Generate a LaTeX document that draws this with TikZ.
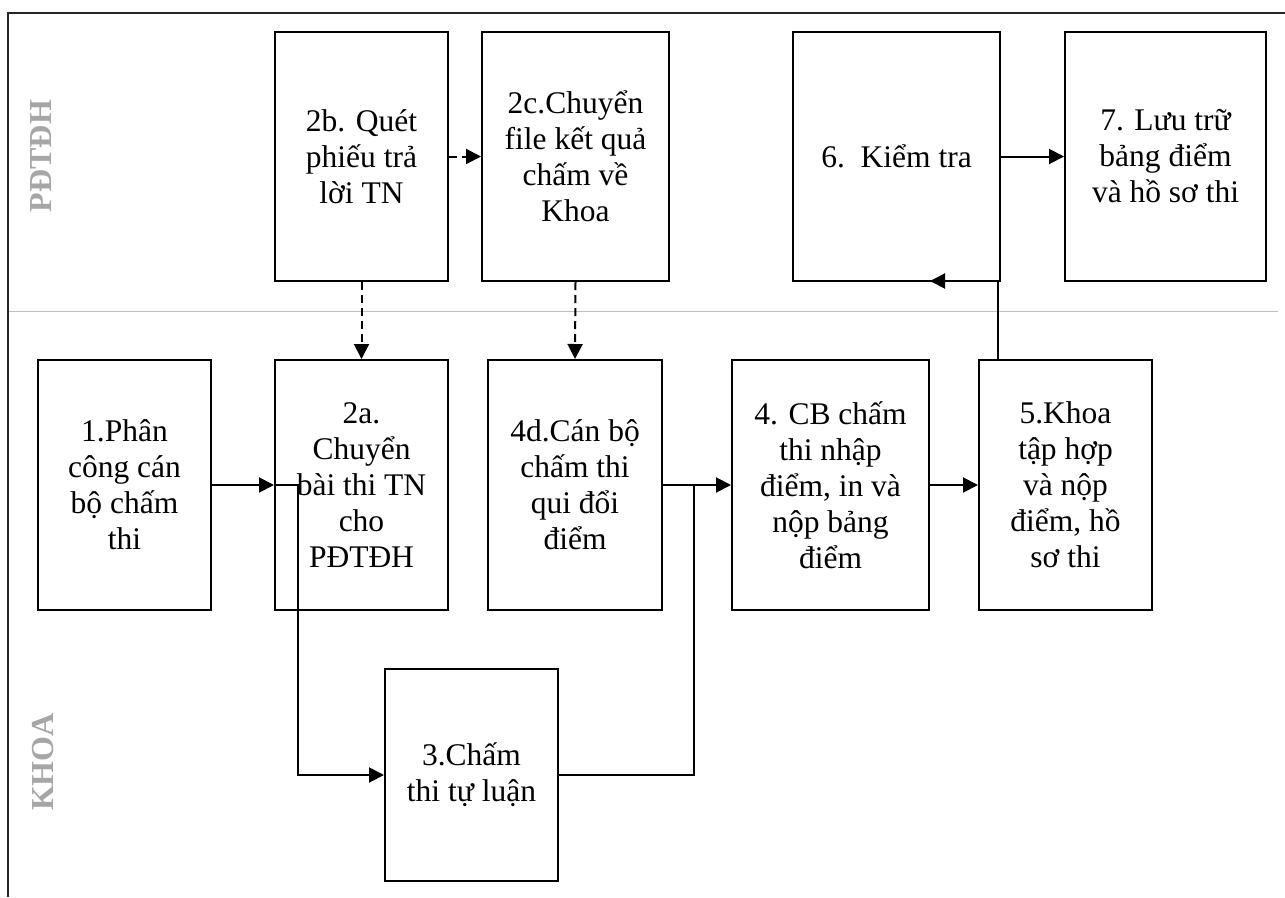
\documentclass[tikz,border=0pt]{standalone}
\usepackage{fontspec}
\setmainfont{Liberation Serif}
\usetikzlibrary{arrows.meta,calc}
\definecolor{lanegray}{RGB}{166,166,166}
\definecolor{divgray}{RGB}{192,192,192}
\begin{document}
\begin{tikzpicture}[x=1pt,y=-1pt,
  stepbox/.style={draw,line width=2pt,inner sep=0pt,align=center,
    font=\fontsize{31.5}{36}\selectfont},
  arr/.style={line width=2pt,-{Triangle[length=15pt,width=15pt]}},
  dasharr/.style={arr,dash pattern=on 8pt off 5pt},
  conn/.style={line width=2pt},
  lanelabel/.style={rotate=90,text=lanegray,font=\fontsize{32}{36}\selectfont\bfseries}]
\useasboundingbox (0,0) rectangle (1285,897);
% frame and lane divider
\draw[line width=2pt,black!85] (1285,13) -- (8,13) -- (8,897);
\draw[line width=1.5pt,divgray] (9,311.5) -- (1278,311.5);
\node[lanelabel] (lpd) at (41,156) {PĐTĐH};
\node[lanelabel] (lkh) at (43,762) {KHOA};
% upper lane (PĐTĐH)
\node[stepbox,minimum width=173pt,minimum height=249pt] (s2b) at (361.5,156.5) {2b. Quét\\phiếu trả\\lời TN};
\node[stepbox,minimum width=187pt,minimum height=249pt] (s2c) at (575.5,156.5) {2c.Chuyển\\file kết quả\\chấm về\\Khoa};
\node[stepbox,minimum width=207pt,minimum height=249pt] (s6) at (896.5,156.5) {6.\ \ Kiểm tra};
\node[stepbox,minimum width=201pt,minimum height=249pt] (s7) at (1165.5,156.5) {7. Lưu trữ\\bảng điểm\\và hồ sơ thi};
% lower lane (KHOA)
\node[stepbox,minimum width=173pt,minimum height=250pt] (s1) at (124.5,485) {1.Phân\\công cán\\bộ chấm\\thi};
\node[stepbox,minimum width=173pt,minimum height=250pt] (s2a) at (361.5,485) {2a.\\Chuyển\\bài thi TN\\cho\\PĐTĐH};
\node[stepbox,minimum width=174pt,minimum height=250pt] (s4d) at (575,485) {4d.Cán bộ\\chấm thi\\qui đổi\\điểm};
\node[stepbox,minimum width=197pt,minimum height=250pt] (s4) at (830.5,485) {4. CB chấm\\thi nhập\\điểm, in và\\nộp bảng\\điểm};
\node[stepbox,minimum width=173pt,minimum height=250pt] (s5) at (1065.5,485) {5.Khoa\\tập hợp\\và nộp\\điểm, hồ\\sơ thi};
\node[stepbox,minimum width=173pt,minimum height=212pt] (s3) at (471.5,775) {3.Chấm\\thi tự luận};
% routing points
\coordinate (j2a) at (298,485);
\coordinate (j3) at (694,485);
\coordinate (j5) at (998,360);
\coordinate (t6) at (930,281);
% connectors
\draw[arr] (s1.east) -- (s2a.west);
\draw[arr] (s2a.west) -- (j2a) |- (s3.west);
\draw[conn] (s3.east) -| (j3);
\draw[arr] (s4d.east) -- (s4.west);
\draw[arr] (s4.east) -- (s5.west);
\draw[arr] (j5) |- (t6);
\draw[arr] (s6.east) -- (s7.west);
\draw[dasharr] (s2b.east) -- (s2c.west);
\draw[dasharr] (s2b.south) -- (s2a.north);
\draw[dasharr] (s2c.south) -- (s4d.north);
\end{tikzpicture}
\end{document}
